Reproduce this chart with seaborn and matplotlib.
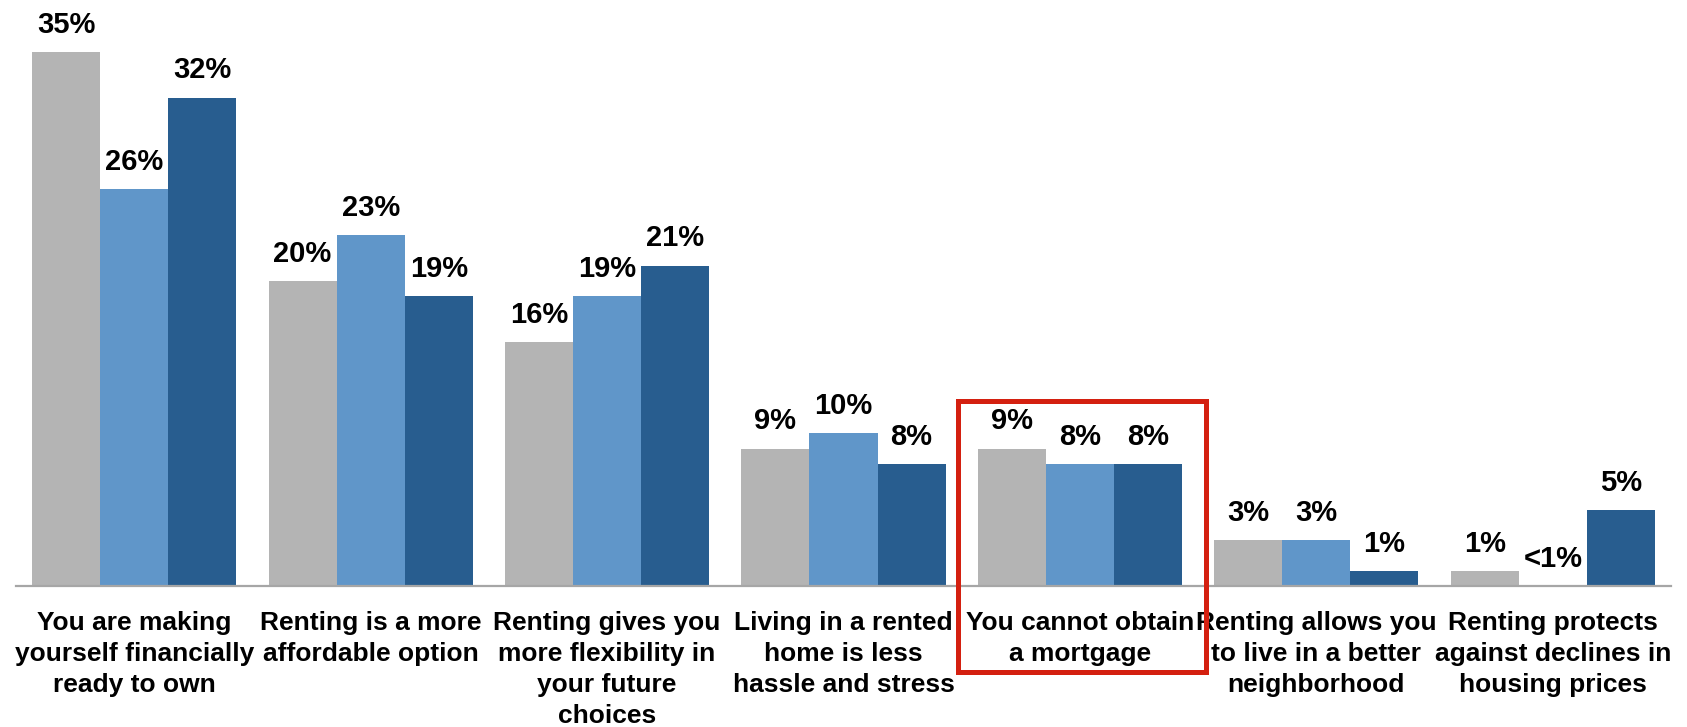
import matplotlib
matplotlib.use("Agg")
import matplotlib.pyplot as plt
import matplotlib.patches as mpatches
import matplotlib.transforms as mtransforms
import numpy as np
import pandas as pd
import seaborn as sns

# Reasons for renting, share of respondents per group
categories = [
    "You are making\nyourself financially\nready to own",
    "Renting is a more\naffordable option",
    "Renting gives you\nmore flexibility in\nyour future\nchoices",
    "Living in a rented\nhome is less\nhassle and stress",
    "You cannot obtain\na mortgage",
    "Renting allows you\nto live in a better\nneighborhood",
    "Renting protects\nagainst declines in\nhousing prices",
]
series_names = ["Series 1", "Series 2", "Series 3"]
series_1 = [35, 20, 16, 9, 9, 3, 1]
series_2 = [26, 23, 19, 10, 8, 3, 0]
series_3 = [32, 19, 21, 8, 8, 1, 5]
labels_1 = ["35%", "20%", "16%", "9%", "9%", "3%", "1%"]
labels_2 = ["26%", "23%", "19%", "10%", "8%", "3%", "<1%"]
labels_3 = ["32%", "19%", "21%", "8%", "8%", "1%", "5%"]
highlight_index = 4

colors = ["#b4b4b4", "#6096c9", "#285d8f"]

df = pd.DataFrame({
    "category": categories * 3,
    "series": np.repeat(series_names, len(categories)),
    "value": series_1 + series_2 + series_3,
})

sns.set_theme(style="white")
plt.rcParams["font.family"] = ["Liberation Sans", "DejaVu Sans"]

fig = plt.figure(figsize=(16.87, 7.27), dpi=100)
ax = fig.add_axes([16 / 1687, 1 - 586 / 727, (1671 - 16) / 1687, 586 / 727])

sns.barplot(data=df, x="category", y="value", hue="series", palette=colors,
            width=0.864, saturation=1, legend=False, linewidth=0, ax=ax)

for container, labs in zip(ax.containers, [labels_1, labels_2, labels_3]):
    ax.bar_label(container, labels=labs, padding=9.5, fontsize=21,
                 fontweight="bold", color="black")

ax.set_xlim(-0.5, len(categories) - 0.5)
ax.set_ylim(0, 38.4)
ax.set_xlabel("")
ax.set_ylabel("")
ax.set_yticks([])

for side in ["left", "right", "top"]:
    ax.spines[side].set_visible(False)
ax.spines["bottom"].set_color("#a6a6a6")
ax.spines["bottom"].set_linewidth(1.6)

ax.set_xticks(range(len(categories)))
ax.set_xticklabels(categories, fontsize=19, fontweight="bold",
                   linespacing=1.36, color="black")
ax.tick_params(axis="x", which="major", length=0, pad=18)
ax.set_xticks(np.arange(-0.5, len(categories), 1.0), minor=True)
ax.tick_params(axis="x", which="minor", length=6, width=1.6,
               color="#a6a6a6", direction="out")

# Red frame around the highlighted category
trans = mtransforms.blended_transform_factory(ax.transData, fig.transFigure)
rect = mpatches.Rectangle((highlight_index - 0.515, 1 - 672 / 727), 1.05,
                          (672 - 401) / 727, transform=trans, fill=False,
                          edgecolor="#d42010", linewidth=3.6, clip_on=False)
fig.patches.append(rect)

fig.savefig("out.png", dpi=100)
